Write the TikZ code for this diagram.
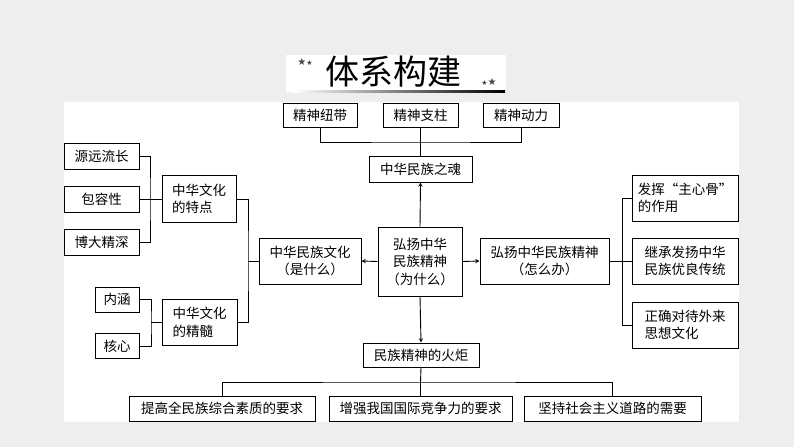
\documentclass[tikz,border=0pt]{standalone}
\usepackage{fontspec}
\setmainfont{Noto Sans CJK SC}
\newfontfamily\starfont{DejaVu Sans}
\usetikzlibrary{arrows}
\def\BoxFont{\fontsize{13.5}{17.5}\selectfont}
\def\TitleFont{\fontsize{34}{34}\selectfont}
\def\StarFont{\starfont\fontsize{10}{10}\selectfont}
\tikzset{
  box/.style={draw,line width=1pt,fill=white,inner sep=2pt,minimum height=25pt,font=\BoxFont,align=center},
  link/.style={line width=0.9pt},
  stars/.style={font=\StarFont,text=gray!55!black,inner sep=0pt},
  >=stealth
}

\begin{document}
\begin{tikzpicture}[x=1pt,y=-1pt]
  \useasboundingbox (0,0) rectangle (794,447);
  \fill[gray!13] (0,0) rectangle (794,447);
  \fill[white] (64,102) rectangle (739,422);
  % title
  \fill[white] (286,55) rectangle (506,92);
  \node[font=\TitleFont,inner sep=0pt] (title) at (393,72) {体系构建};
  \node[stars] (stl) at (305,62) {★\scriptsize★};
  \node[stars] (str) at (489,82) {\scriptsize★\normalsize★};
  \shade[left color=white,right color=black] (293,90) rectangle (505,92.5);

  % top
  \node[box,minimum width=74pt,minimum height=24pt] (tie) at (320,115) {精神纽带};
  \node[box,minimum width=75pt,minimum height=24pt] (pillar) at (420.5,115) {精神支柱};
  \node[box,minimum width=76pt,minimum height=24pt] (power) at (521,115) {精神动力};
  \node[box,minimum width=103pt,minimum height=26pt] (soul) at (420.5,169) {中华民族之魂};
  \coordinate (topbus) at (420.5,142);

  % middle
  \node[box,minimum width=84pt,minimum height=69pt] (mid) at (420,261.5) {弘扬中华\\民族精神\\（为什么）};
  \node[box,minimum width=102pt,minimum height=46pt] (what) at (310,261) {中华民族文化\\（是什么）};
  \node[box,minimum width=129pt,minimum height=46pt] (how) at (544.5,261) {弘扬中华民族精神\\（怎么办）};

  % right
  \node[box,minimum width=106pt,minimum height=46pt,align=left] (r1) at (685,198) {发挥“主心骨”\\的作用};
  \node[box,minimum width=106pt,minimum height=46pt,align=left] (r2) at (685,261) {继承发扬中华\\民族优良传统};
  \node[box,minimum width=106pt,minimum height=46pt,align=left] (r3) at (685,325) {正确对待外来\\思想文化};
  \coordinate (rbus) at (622,261);

  % left
  \node[box,minimum width=74pt,minimum height=47pt,align=left] (feat) at (199,199) {中华文化\\的特点};
  \node[box,minimum width=75pt,minimum height=46pt,align=left] (ess) at (199.5,322.5) {中华文化\\的精髓};
  \node[box,minimum width=75pt,minimum height=26pt] (l1) at (101.5,156) {源远流长};
  \node[box,minimum width=75pt,minimum height=26pt] (l2) at (101.5,199) {包容性};
  \node[box,minimum width=75pt,minimum height=26pt] (l3) at (101.5,242) {博大精深};
  \node[box,minimum width=44pt,minimum height=25pt] (inner) at (117,299.5) {内涵};
  \node[box,minimum width=44pt,minimum height=25pt] (core) at (117,346) {核心};
  \coordinate (lbus) at (150,199);
  \coordinate (mbus) at (248,261);
  \coordinate (ebus) at (151,322.5);

  % bottom
  \node[box,minimum width=116pt,minimum height=24pt] (torch) at (421,355) {民族精神的火炬};
  \node[box,minimum width=186pt,minimum height=25pt] (b1) at (222,408.5) {提高全民族综合素质的要求};
  \node[box,minimum width=183pt,minimum height=25pt] (b2) at (420.5,408.5) {增强我国国际竞争力的要求};
  \node[box,minimum width=177pt,minimum height=25pt] (b3) at (612.5,408.5) {坚持社会主义道路的需要};
  \coordinate (botbus) at (420.5,382);

  \draw[link] (tie.south) |- (topbus) -| (power.south);
  \draw[link] (pillar.south) -- (soul.north);
  \draw[link,->] (mid.north) -- (soul.south);
  \draw[link,->] (mid.west) -- (what.east);
  \draw[link,->] (mid.east) -- (how.west);
  \draw[link,->] (mid.south) -- (torch.north);
  \draw[link] (how.east) -- (rbus);
  \draw[link] (r1.west) -| (rbus) |- (r3.west);
  \draw[link] (rbus) -- (r2.west);
  \draw[link] (l1.east) -| (lbus) |- (l3.east);
  \draw[link] (l2.east) -- (feat.west);
  \draw[link] (feat.east) -| (mbus) |- (ess.east);
  \draw[link] (mbus) -- (what.west);
  \draw[link] (inner.east) -| (ebus) |- (core.east);
  \draw[link] (ebus) -- (ess.west);
  \draw[link] (torch.south) -- (botbus);
  \draw[link] (b1.north) |- (botbus) -| (b3.north);
  \draw[link] (botbus) -- (b2.north);
\end{tikzpicture}
\end{document}
